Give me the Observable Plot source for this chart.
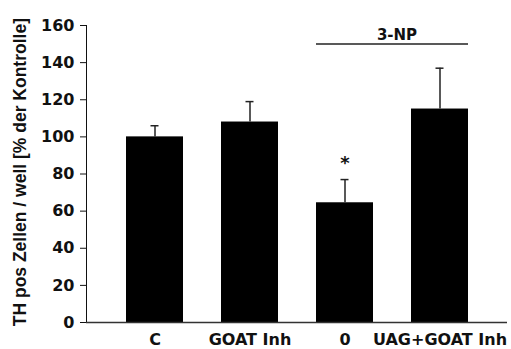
<!DOCTYPE html>
<html>
<head>
<meta charset="utf-8">
<script src="https://cdn.jsdelivr.net/npm/d3@7"></script>
<script src="https://cdn.jsdelivr.net/npm/@observablehq/plot@0.6"></script>
<style>
  html, body { margin: 0; padding: 0; background: #fff; }
</style>
</head>
<body>
<div id="chart"></div>
<script>
const categories = ["C", "GOAT Inh", "0", "UAG+GOAT Inh"];
const means = [100, 108, 64.5, 115];
const errors = [6, 11, 12.5, 22];
const yTicks = [0, 20, 40, 60, 80, 100, 120, 140, 160];
const yTitle = "TH pos Zellen / well [% der Kontrolle]";
const groupLabel = "3-NP";
const groupStart = "0";
const groupEnd = "UAG+GOAT Inh";
const groupY = 150;
const groupLabelY = 155;
const sigCategory = "0";
const sigMark = "*";
const sigY = 86;

const data = categories.map((c, i) => ({cat: c, mean: means[i], top: means[i] + errors[i]}));

const chart = Plot.plot({
  width: 511,
  height: 349,
  marginLeft: 86,
  marginRight: 4,
  marginTop: 25,
  marginBottom: 27,
  style: {fontFamily: "'DejaVu Sans', sans-serif", fontWeight: "bold", fontSize: "16px", color: "#111", background: "#fff"},
  x: {domain: categories, padding: 0.4, label: null, tickSize: 0, tickPadding: 11},
  y: {domain: [0, 160], ticks: yTicks, label: null, tickSize: 6, tickPadding: 6, line: true},
  marks: [
    Plot.barY(data, {x: "cat", y: "mean", fill: "#000"}),
    Plot.ruleX(data, {x: "cat", y1: "mean", y2: "top", stroke: "#222", strokeWidth: 1.5}),
    Plot.tickY(data, {x: "cat", y: "top", stroke: "#222", strokeWidth: 1.5, insetLeft: 24.5, insetRight: 24.5}),
    Plot.ruleY([0], {stroke: "#333", strokeWidth: 1.3}),
    Plot.ruleY([groupY], {x1: () => groupStart, x2: () => groupEnd, stroke: "#222", strokeWidth: 1.5}),
    Plot.text([groupLabel], {x: () => groupStart, y: () => groupLabelY, text: d => d, dx: 52, fontSize: 15, fontWeight: "bold"}),
    Plot.text([sigMark], {x: () => sigCategory, y: () => sigY, text: d => d, fontSize: 18, fontWeight: "bold"}),
    Plot.text([yTitle], {frameAnchor: "left", textAnchor: "middle", y: () => 81, text: d => d, rotate: -90, dx: -66, fontSize: 17.5, fontWeight: "bold", fontFamily: "'Liberation Sans', Arial, sans-serif"})
  ]
});
document.getElementById("chart").appendChild(chart);
</script>
</body>
</html>
